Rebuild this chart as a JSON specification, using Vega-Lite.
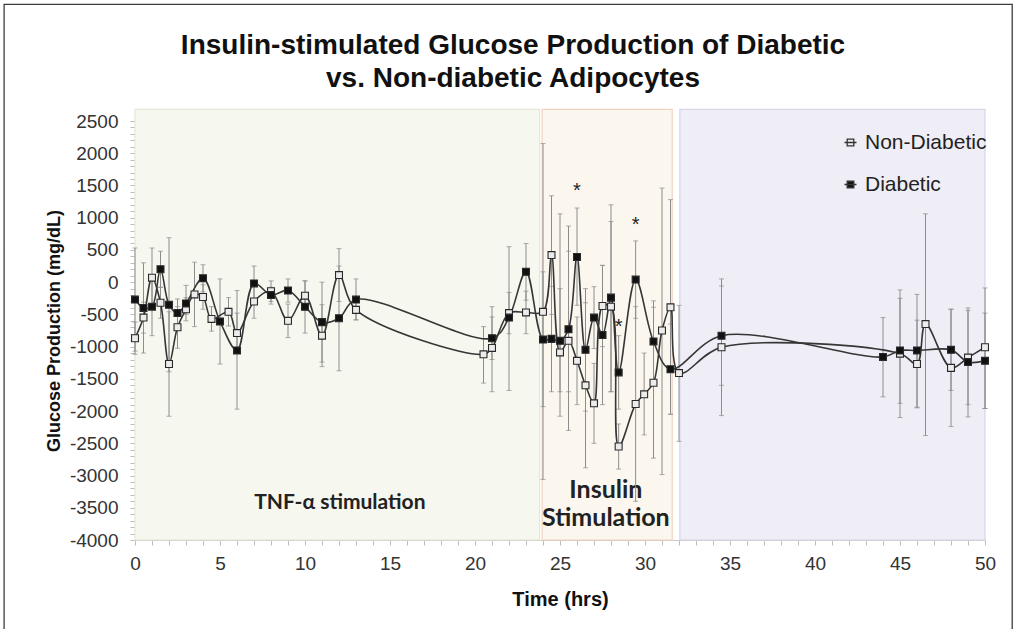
{
  "$schema": "https://vega.github.io/schema/vega-lite/v6.json",
  "width": 850,
  "height": 419,
  "autosize": {"type": "none"},
  "padding": {"left": 135, "top": 121, "right": 32, "bottom": 89},
  "background": "#ffffff",
  "title": {
    "text": ["Insulin-stimulated Glucose Production of Diabetic", "vs. Non-diabetic Adipocytes"],
    "font": "Liberation Sans",
    "fontSize": 28,
    "fontWeight": "bold",
    "color": "#111111",
    "anchor": "middle",
    "dx": -47,
    "offset": -89,
    "lineHeight": 33
  },
  "config": {
    "view": {"stroke": null},
    "axis": {
      "domainColor": "#c8c8c8",
      "tickColor": "#bdbdbd",
      "labelColor": "#333333",
      "labelFont": "Liberation Sans",
      "labelFontSize": 19,
      "titleFont": "Liberation Sans",
      "titleFontWeight": "bold",
      "titleColor": "#111111",
      "grid": false
    }
  },
  "resolve": {"scale": {"fill": "independent", "stroke": "independent"}},
  "datasets": {
    "regions": [
      {"phase": "TNF", "start": 0, "end": 23.8},
      {"phase": "Insulin", "start": 23.95, "end": 31.6},
      {"phase": "Post", "start": 32.05, "end": 50}
    ],
    "stars": [
      {"t": 26, "v": 1480},
      {"t": 29.45, "v": 950},
      {"t": 28.45, "v": -640}
    ],
    "pts": [
      {"s": "Non-Diabetic", "t": 0, "v": -870, "lo": -1120, "hi": -620},
      {"s": "Non-Diabetic", "t": 0.5, "v": -550, "lo": -790, "hi": -310},
      {"s": "Non-Diabetic", "t": 1, "v": 70, "lo": -390, "hi": 530},
      {"s": "Non-Diabetic", "t": 1.5, "v": -320, "lo": -560, "hi": -80},
      {"s": "Non-Diabetic", "t": 2, "v": -1270, "lo": -2080, "hi": -460},
      {"s": "Non-Diabetic", "t": 2.5, "v": -700, "lo": -1025, "hi": -380},
      {"s": "Non-Diabetic", "t": 3, "v": -420, "lo": -600, "hi": -240},
      {"s": "Non-Diabetic", "t": 3.5, "v": -190, "lo": -690, "hi": 310},
      {"s": "Non-Diabetic", "t": 4, "v": -230, "lo": -420, "hi": -40},
      {"s": "Non-Diabetic", "t": 4.5, "v": -570, "lo": -760, "hi": -380},
      {"s": "Non-Diabetic", "t": 5.5, "v": -460, "lo": -680, "hi": -240},
      {"s": "Non-Diabetic", "t": 6, "v": -790, "lo": -1100, "hi": -480},
      {"s": "Non-Diabetic", "t": 7, "v": -300, "lo": -560, "hi": -40},
      {"s": "Non-Diabetic", "t": 8, "v": -140, "lo": -300, "hi": 20},
      {"s": "Non-Diabetic", "t": 9, "v": -600, "lo": -860, "hi": -340},
      {"s": "Non-Diabetic", "t": 10, "v": -210, "lo": -440, "hi": 20},
      {"s": "Non-Diabetic", "t": 11, "v": -830, "lo": -1310, "hi": -350},
      {"s": "Non-Diabetic", "t": 12, "v": 110, "lo": -300, "hi": 520},
      {"s": "Non-Diabetic", "t": 13, "v": -430, "lo": -585, "hi": -275},
      {"s": "Non-Diabetic", "t": 20.5, "v": -1120, "lo": -1566, "hi": -690},
      {"s": "Non-Diabetic", "t": 21, "v": -1020, "lo": -1700, "hi": -380},
      {"s": "Non-Diabetic", "t": 22, "v": -480, "lo": -800, "hi": -160},
      {"s": "Non-Diabetic", "t": 23, "v": -470, "lo": -800, "hi": -140},
      {"s": "Non-Diabetic", "t": 24, "v": -460, "lo": -3060, "hi": 2150},
      {"s": "Non-Diabetic", "t": 24.5, "v": 420, "lo": -500, "hi": 1340},
      {"s": "Non-Diabetic", "t": 25, "v": -1090, "lo": -2080, "hi": -100},
      {"s": "Non-Diabetic", "t": 25.5, "v": -910, "lo": -2300, "hi": 480},
      {"s": "Non-Diabetic", "t": 26, "v": -1220, "lo": -1900, "hi": -540},
      {"s": "Non-Diabetic", "t": 26.5, "v": -1600, "lo": -2880, "hi": -320},
      {"s": "Non-Diabetic", "t": 27, "v": -1880, "lo": -2500, "hi": -1260},
      {"s": "Non-Diabetic", "t": 27.5, "v": -370, "lo": -1000, "hi": 260},
      {"s": "Non-Diabetic", "t": 28, "v": -380, "lo": -1700, "hi": 940},
      {"s": "Non-Diabetic", "t": 28.45, "v": -2550, "lo": -2900, "hi": -2200},
      {"s": "Non-Diabetic", "t": 29.45, "v": -1890, "lo": -3400, "hi": -380},
      {"s": "Non-Diabetic", "t": 29.95, "v": -1740, "lo": -2370, "hi": -1100},
      {"s": "Non-Diabetic", "t": 30.5, "v": -1560, "lo": -2730, "hi": -390},
      {"s": "Non-Diabetic", "t": 31, "v": -750, "lo": -2985, "hi": 1460},
      {"s": "Non-Diabetic", "t": 31.5, "v": -390, "lo": -2050, "hi": 1280},
      {"s": "Non-Diabetic", "t": 32, "v": -1410, "lo": -2470, "hi": -360},
      {"s": "Non-Diabetic", "t": 34.5, "v": -1010, "lo": -2070, "hi": 50},
      {"s": "Non-Diabetic", "t": 45, "v": -1110, "lo": -2100, "hi": -120},
      {"s": "Non-Diabetic", "t": 46, "v": -1270, "lo": -1950, "hi": -590},
      {"s": "Non-Diabetic", "t": 46.5, "v": -650, "lo": -2380, "hi": 1060},
      {"s": "Non-Diabetic", "t": 48, "v": -1330, "lo": -2240, "hi": -420},
      {"s": "Non-Diabetic", "t": 49, "v": -1170, "lo": -1900, "hi": -440},
      {"s": "Non-Diabetic", "t": 50, "v": -1010, "lo": -1960, "hi": -90},
      {"s": "Diabetic", "t": 0, "v": -270, "lo": -1070, "hi": 530},
      {"s": "Diabetic", "t": 0.5, "v": -400, "lo": -1100, "hi": 300},
      {"s": "Diabetic", "t": 1, "v": -380, "lo": -830, "hi": 70},
      {"s": "Diabetic", "t": 1.5, "v": 200, "lo": -80, "hi": 480},
      {"s": "Diabetic", "t": 2, "v": -350, "lo": -1390, "hi": 690},
      {"s": "Diabetic", "t": 2.5, "v": -480, "lo": -700, "hi": -260},
      {"s": "Diabetic", "t": 3, "v": -330, "lo": -500, "hi": -50},
      {"s": "Diabetic", "t": 4, "v": 60, "lo": -150, "hi": 270},
      {"s": "Diabetic", "t": 5, "v": -610, "lo": -1270, "hi": 50},
      {"s": "Diabetic", "t": 6, "v": -1060, "lo": -1970, "hi": -130},
      {"s": "Diabetic", "t": 7, "v": -20, "lo": -290, "hi": 250},
      {"s": "Diabetic", "t": 8, "v": -200, "lo": -340, "hi": -80},
      {"s": "Diabetic", "t": 9, "v": -130, "lo": -310, "hi": 50},
      {"s": "Diabetic", "t": 10, "v": -380, "lo": -790, "hi": 20},
      {"s": "Diabetic", "t": 11, "v": -620, "lo": -1240, "hi": 0},
      {"s": "Diabetic", "t": 12, "v": -560, "lo": -1375, "hi": 250},
      {"s": "Diabetic", "t": 13, "v": -270, "lo": -585, "hi": 50},
      {"s": "Diabetic", "t": 21, "v": -870, "lo": -1200, "hi": -540},
      {"s": "Diabetic", "t": 22, "v": -550, "lo": -1680, "hi": 550},
      {"s": "Diabetic", "t": 23, "v": 160, "lo": -280, "hi": 600},
      {"s": "Diabetic", "t": 24, "v": -890, "lo": -1930, "hi": 160},
      {"s": "Diabetic", "t": 24.5, "v": -880, "lo": -1700, "hi": -65},
      {"s": "Diabetic", "t": 25, "v": -910, "lo": -1700, "hi": 1060},
      {"s": "Diabetic", "t": 25.5, "v": -730, "lo": -1700, "hi": 870},
      {"s": "Diabetic", "t": 26, "v": 390, "lo": -360, "hi": 1150},
      {"s": "Diabetic", "t": 26.5, "v": -1050, "lo": -2000, "hi": -100},
      {"s": "Diabetic", "t": 27, "v": -550, "lo": -1030, "hi": -70},
      {"s": "Diabetic", "t": 27.5, "v": -820, "lo": -1900, "hi": 260},
      {"s": "Diabetic", "t": 28, "v": -240, "lo": -1700, "hi": 1200},
      {"s": "Diabetic", "t": 28.45, "v": -1400, "lo": -1970, "hi": -830},
      {"s": "Diabetic", "t": 29.45, "v": 40, "lo": -560, "hi": 640},
      {"s": "Diabetic", "t": 30.5, "v": -920, "lo": -1550, "hi": -290},
      {"s": "Diabetic", "t": 31.5, "v": -1350, "lo": -2050, "hi": -650},
      {"s": "Diabetic", "t": 34.5, "v": -830, "lo": -1600, "hi": -60},
      {"s": "Diabetic", "t": 44, "v": -1160, "lo": -1780, "hi": -550},
      {"s": "Diabetic", "t": 45, "v": -1060, "lo": -1880, "hi": -250},
      {"s": "Diabetic", "t": 46, "v": -1060, "lo": -1940, "hi": -190},
      {"s": "Diabetic", "t": 48, "v": -1050, "lo": -1680, "hi": -420},
      {"s": "Diabetic", "t": 49, "v": -1240, "lo": -2090, "hi": -400},
      {"s": "Diabetic", "t": 50, "v": -1220, "lo": -1960, "hi": -480}
    ]
  },
  "layer": [
    {
      "data": {"values": [{}]},
      "mark": {"type": "rect", "fill": null, "fillOpacity": 0, "stroke": "#3c3c3c", "strokeWidth": 1.3},
      "encoding": {
        "x": {"datum": -7.7, "type": "quantitative"},
        "x2": {"datum": 51.6},
        "y": {"datum": -5600, "type": "quantitative"},
        "y2": {"datum": 4310}
      }
    },
    {
      "data": {"name": "regions"},
      "mark": {"type": "rect", "strokeWidth": 1.2},
      "encoding": {
        "x": {"field": "start", "type": "quantitative", "scale": {"domain": [0, 50], "nice": false, "zero": false},
          "axis": {
            "title": "Time (hrs)",
            "titleFontSize": 20,
            "titlePadding": 16,
            "values": [0,1,2,3,4,5,6,7,8,9,10,11,12,13,14,15,16,17,18,19,20,21,22,23,24,25,26,27,28,29,30,31,32,33,34,35,36,37,38,39,40,41,42,43,44,45,46,47,48,49,50],
            "tickCount": 200,
            "labelExpr": "datum.value % 5 === 0 ? toString(datum.value) : ''",
            "labelOverlap": false,
            "labelFlush": false,
            "labelBound": false,
            "tickSize": 5,
            "labelPadding": 9
          }},
        "x2": {"field": "end"},
        "y": {"datum": -4000, "type": "quantitative", "scale": {"domain": [-4000, 2500], "nice": false, "zero": false},
          "axis": {
            "title": "Glucose Production (mg/dL)",
            "titleFontSize": 18,
            "titlePadding": 6,
            "values": [-4000,-3900,-3800,-3700,-3600,-3500,-3400,-3300,-3200,-3100,-3000,-2900,-2800,-2700,-2600,-2500,-2400,-2300,-2200,-2100,-2000,-1900,-1800,-1700,-1600,-1500,-1400,-1300,-1200,-1100,-1000,-900,-800,-700,-600,-500,-400,-300,-200,-100,0,100,200,300,400,500,600,700,800,900,1000,1100,1200,1300,1400,1500,1600,1700,1800,1900,2000,2100,2200,2300,2400,2500],
            "tickCount": 200,
            "labelExpr": "datum.value % 500 === 0 ? toString(datum.value) : ''",
            "labelOverlap": false,
            "labelFlush": false,
            "labelBound": false,
            "tickSize": 5,
            "labelPadding": 12
          }},
        "y2": {"datum": 2680},
        "fill": {"field": "phase", "type": "nominal", "scale": {"domain": ["TNF", "Insulin", "Post"], "range": ["#f6f7ee", "#fbf7ef", "#efedf5"]}, "legend": null},
        "stroke": {"field": "phase", "type": "nominal", "scale": {"domain": ["TNF", "Insulin", "Post"], "range": ["#e6e8d6", "#efd3be", "#d9d5e8"]}, "legend": null}
      }
    },
    {
      "data": {"values": [{}]},
      "mark": {"type": "text", "font": "Lato", "fontWeight": "bold", "fontSize": 21, "color": "#222222"},
      "encoding": {"x": {"datum": 12.05}, "y": {"datum": -3430}, "text": {"value": "TNF-α stimulation"}}
    },
    {
      "data": {"values": [{}]},
      "mark": {"type": "text", "font": "Lato", "fontWeight": "bold", "fontSize": 25, "color": "#222222", "lineHeight": 28},
      "encoding": {"x": {"datum": 27.7}, "y": {"datum": -3225}, "text": {"value": ["Insulin", "Stimulation"]}}
    },
    {
      "data": {"name": "pts"},
      "mark": {"type": "rule", "color": "#8c8c8c", "strokeWidth": 1},
      "encoding": {
        "x": {"field": "t", "type": "quantitative"},
        "y": {"field": "lo", "type": "quantitative"},
        "y2": {"field": "hi"}
      }
    },
    {
      "data": {"name": "pts"},
      "mark": {"type": "tick", "orient": "horizontal", "color": "#8c8c8c", "size": 5, "thickness": 1},
      "encoding": {
        "x": {"field": "t", "type": "quantitative"},
        "y": {"field": "lo", "type": "quantitative"}
      }
    },
    {
      "data": {"name": "pts"},
      "mark": {"type": "tick", "orient": "horizontal", "color": "#8c8c8c", "size": 5, "thickness": 1},
      "encoding": {
        "x": {"field": "t", "type": "quantitative"},
        "y": {"field": "hi", "type": "quantitative"}
      }
    },
    {
      "data": {"name": "pts"},
      "mark": {"type": "line", "interpolate": "catmull-rom", "color": "#363636", "strokeWidth": 1.6},
      "encoding": {
        "x": {"field": "t", "type": "quantitative"},
        "y": {"field": "v", "type": "quantitative"},
        "detail": {"field": "s"}
      }
    },
    {
      "data": {"name": "pts"},
      "mark": {"type": "point", "shape": "square", "filled": true, "size": 48, "stroke": "#2a2a2a", "strokeWidth": 1.1, "opacity": 1},
      "encoding": {
        "x": {"field": "t", "type": "quantitative"},
        "y": {"field": "v", "type": "quantitative"},
        "fill": {"field": "s", "type": "nominal",
          "scale": {"domain": ["Non-Diabetic", "Diabetic"], "range": ["#ececec", "#111111"]},
          "legend": {
            "title": null,
            "orient": "none",
            "legendX": 705,
            "legendY": 11,
            "labelFont": "Liberation Sans",
            "labelFontSize": 21,
            "labelColor": "#222222",
            "labelOffset": 4,
            "rowPadding": 20,
            "symbolType": "M-1,0H1M-0.55,-0.55H0.55V0.55H-0.55Z",
            "symbolSize": 144,
            "symbolStrokeColor": "#333333",
            "symbolStrokeWidth": 1.3
          }}
      }
    },
    {
      "data": {"name": "stars"},
      "mark": {"type": "text", "font": "Liberation Sans", "fontSize": 20, "color": "#222222", "baseline": "middle", "dy": 4},
      "encoding": {
        "x": {"field": "t", "type": "quantitative"},
        "y": {"field": "v", "type": "quantitative"},
        "text": {"value": "*"}
      }
    }
  ]
}
